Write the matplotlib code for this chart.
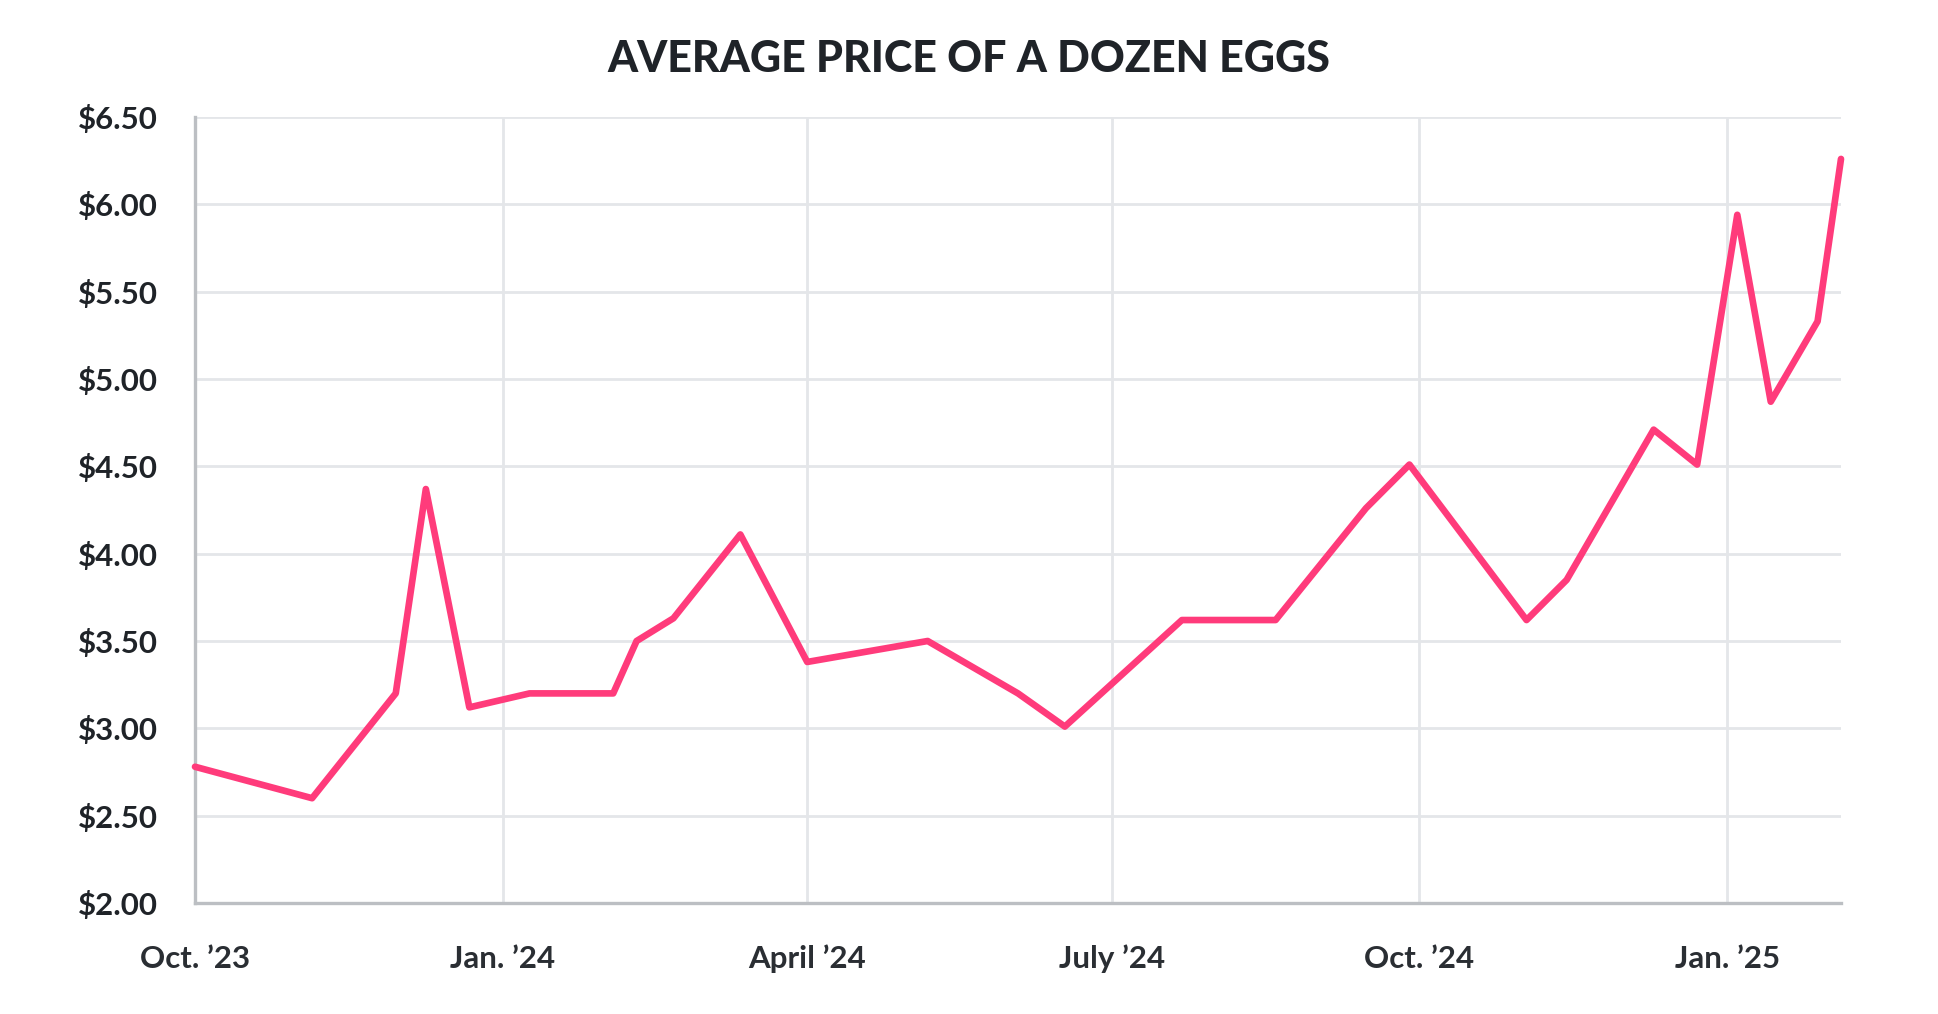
import matplotlib
matplotlib.use("Agg")
import matplotlib.pyplot as plt
import matplotlib.dates as mdates
from matplotlib.ticker import FixedLocator, FuncFormatter
import datetime as dt

# ---- data ----
dates = ["2023-10-01", "2023-11-05", "2023-11-30", "2023-12-09", "2023-12-22",
         "2024-01-09", "2024-02-03", "2024-02-10", "2024-02-21", "2024-03-12",
         "2024-04-01", "2024-05-07", "2024-06-03", "2024-06-17", "2024-07-22",
         "2024-08-19", "2024-09-15", "2024-09-28", "2024-11-02", "2024-11-14",
         "2024-12-10", "2024-12-23", "2025-01-04", "2025-01-14", "2025-01-28",
         "2025-02-04"]
prices = [2.78, 2.60, 3.20, 4.37, 3.12,
          3.20, 3.20, 3.50, 3.63, 4.11,
          3.38, 3.50, 3.20, 3.01, 3.62,
          3.62, 4.26, 4.51, 3.62, 3.85,
          4.71, 4.51, 5.94, 4.87, 5.33,
          6.26]
x_tick_dates = ["2023-10-01", "2024-01-01", "2024-04-01", "2024-07-01", "2024-10-01", "2025-01-01"]
x_tick_labels = ["Oct. \u201923", "Jan. \u201924", "April \u201924", "July \u201924", "Oct. \u201924", "Jan. \u201925"]
y_ticks = [2.0, 2.5, 3.0, 3.5, 4.0, 4.5, 5.0, 5.5, 6.0, 6.5]
title = "AVERAGE PRICE OF A DOZEN EGGS"

to_date = lambda s: dt.datetime.strptime(s, "%Y-%m-%d")
xd = [to_date(d) for d in dates]
xt = [mdates.date2num(to_date(d)) for d in x_tick_dates]

LINE = "#ff3b7b"
GRID = "#e4e6e9"
SPINE = "#bcbfc3"
TEXT = "#1f2328"

fig = plt.figure(figsize=(19.38, 10.14), dpi=100)
fig.patch.set_facecolor("white")
ax = fig.add_axes([195/1938, 1-903/1014, (1841-195)/1938, (903-117)/1014])

ax.plot(xd, prices, color=LINE, lw=4.8, solid_capstyle="round",
        solid_joinstyle="round", zorder=3, clip_on=False)

ax.set_xlim(to_date(dates[0]), to_date(dates[-1]))
ax.set_ylim(2.0, 6.5)

ax.xaxis.set_major_locator(FixedLocator(xt))
ax.xaxis.set_major_formatter(FuncFormatter(lambda v, p: x_tick_labels[xt.index(v)] if v in xt else ""))
ax.yaxis.set_major_locator(FixedLocator(y_ticks))
ax.yaxis.set_major_formatter(FuncFormatter(lambda v, p: f"${v:.2f}"))

ax.grid(True, color=GRID, lw=2.0, zorder=0)
ax.set_axisbelow(True)
for s in ["top", "right"]:
    ax.spines[s].set_visible(False)
for s in ["left", "bottom"]:
    ax.spines[s].set_color(SPINE)
    ax.spines[s].set_linewidth(2.4)
    ax.spines[s].set_zorder(2)

ax.tick_params(axis="both", length=0)
ax.tick_params(axis="y", pad=27)
ax.tick_params(axis="x", pad=30)
for lab in ax.get_yticklabels():
    lab.set_fontfamily(["Lato", "DejaVu Sans"])
    lab.set_fontweight("bold")
    lab.set_fontsize(22.5)
    lab.set_color(TEXT)
for lab in ax.get_xticklabels():
    lab.set_fontfamily(["Lato", "DejaVu Sans"])
    lab.set_fontweight("bold")
    lab.set_fontsize(22.5)
    lab.set_color("#2a2e33")

fig.text(0.5, 1-72/1014, title, ha="center", va="baseline",
         fontsize=31, fontweight="black", family=["Lato", "DejaVu Sans"], color=TEXT)

fig.savefig("out.png", dpi=100, facecolor="white")
